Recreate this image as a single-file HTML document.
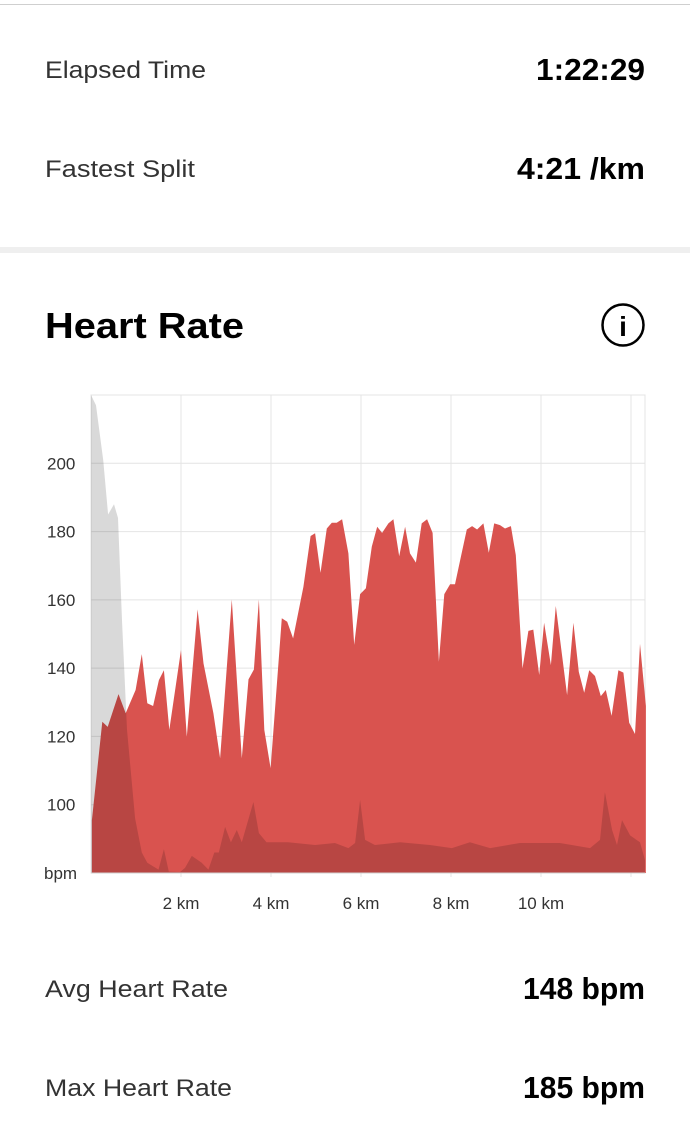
<!DOCTYPE html>
<html><head><meta charset="utf-8"><style>
html,body{margin:0;padding:0;background:#fff;}
svg{display:block;font-family:"Liberation Sans",sans-serif;}
</style></head><body>
<svg id="page" width="690" height="1130" viewBox="0 0 690 1130">
  <rect x="0" y="4" width="690" height="1" fill="#cfcfcf"/>
  <g>
    <text x="45" y="78" font-size="24" fill="#333" textLength="161" lengthAdjust="spacingAndGlyphs">Elapsed Time</text>
    <text x="645" y="80" font-size="31" font-weight="bold" fill="#000" text-anchor="end" textLength="109" lengthAdjust="spacingAndGlyphs">1:22:29</text>
  </g>
  <g>
    <text x="45" y="177" font-size="24" fill="#333" textLength="150" lengthAdjust="spacingAndGlyphs">Fastest Split</text>
    <text x="645" y="179" font-size="31" font-weight="bold" fill="#000" text-anchor="end" textLength="128" lengthAdjust="spacingAndGlyphs">4:21 /km</text>
  </g>
  <rect x="0" y="247" width="690" height="6" fill="#efefef"/>
  <text x="45" y="338" font-size="36" font-weight="bold" fill="#000" textLength="199" lengthAdjust="spacingAndGlyphs">Heart Rate</text>
  <g>
    <circle cx="623" cy="325" r="20.5" fill="none" stroke="#000" stroke-width="2.5"/>
    <text x="623" y="336" font-size="28" font-weight="bold" fill="#000" text-anchor="middle">i</text>
  </g>
  <g id="chart"></g>
  <g>
    <text x="45" y="997" font-size="24" fill="#333" textLength="183" lengthAdjust="spacingAndGlyphs">Avg Heart Rate</text>
    <text x="645" y="999" font-size="31" font-weight="bold" fill="#000" text-anchor="end" textLength="122" lengthAdjust="spacingAndGlyphs">148 bpm</text>
  </g>
  <g>
    <text x="45" y="1096" font-size="24" fill="#333" textLength="187" lengthAdjust="spacingAndGlyphs">Max Heart Rate</text>
    <text x="645" y="1098" font-size="31" font-weight="bold" fill="#000" text-anchor="end" textLength="122" lengthAdjust="spacingAndGlyphs">185 bpm</text>
  </g>
</svg>
<script>
const hrKm = [0.02,0.25,0.37,0.61,0.77,0.99,1.13,1.25,1.38,1.51,1.62,1.74,2.0,2.13,2.37,2.50,2.72,2.87,3.13,3.35,3.50,3.62,3.73,3.85,3.99,4.24,4.36,4.49,4.72,4.88,4.98,5.10,5.24,5.35,5.46,5.58,5.72,5.85,5.98,6.11,6.24,6.36,6.47,6.61,6.72,6.85,6.98,7.09,7.22,7.35,7.47,7.59,7.73,7.85,7.98,8.09,8.22,8.35,8.47,8.58,8.72,8.84,8.96,9.09,9.2,9.33,9.44,9.59,9.72,9.83,9.96,10.07,10.22,10.33,10.58,10.72,10.84,10.96,11.07,11.2,11.33,11.44,11.57,11.72,11.83,11.96,12.09,12.2,12.33];
const hrBpm = [95.5,124.3,122.8,132.4,126.8,133.6,144.1,129.7,128.9,136.5,139.4,121.9,145.3,119.9,157.2,141.4,126.8,113.6,160.1,113.6,136.7,139.6,160.1,121.9,110.7,154.6,153.6,148.7,163.8,178.7,179.5,167.9,180.9,182.6,182.6,183.6,173.6,146.8,161.7,163.4,175.6,181.4,179.6,182.4,183.6,172.8,181.4,173.6,170.9,182.4,183.6,179.6,141.9,161.7,164.6,164.6,172.6,180.6,181.6,180.6,182.4,173.8,182.4,181.9,180.9,181.6,173.1,139.9,150.9,151.3,138.0,153.3,140.9,158.2,132.1,153.3,138.9,132.8,139.4,137.7,131.8,133.6,126.0,139.4,138.7,124.0,120.7,147.1,128.9];
const elevKm = [0,0.11,0.27,0.38,0.51,0.6,0.69,0.8,0.98,1.13,1.25,1.5,1.62,1.73,1.98,2.09,2.24,2.46,2.61,2.74,2.84,2.98,3.11,3.24,3.35,3.61,3.73,3.9,4.38,4.98,5.42,5.72,5.87,5.98,6.09,6.31,6.87,7.53,8.02,8.42,8.87,9.53,10.42,11.09,11.31,11.42,11.58,11.69,11.8,11.98,12.2,12.31];
const elevVal = [220,217,201,185,188,184,154,122,96,86,83,81,87,80.4,80.3,81.5,85,83,81,86,86,93.5,89,92.6,89,100.8,91.7,89,89,88.2,88.8,87.3,88.8,101.4,89.7,88.2,89,88.2,87.3,89,87.3,88.8,88.8,87.3,89.7,103.7,92.6,88.2,95.5,91,89,83.8];
const yTicks = [100,120,140,160,180,200];
const yTickLabels = ["100","120","140","160","180","200"];
const xTicks = [2,4,6,8,10];
const xTickLabels = ["2 km","4 km","6 km","8 km","10 km"];
const gridKm = [2,4,6,8,10,12];

const NS = "http://www.w3.org/2000/svg";
const L=91, R=645, T=395, B=873, KMIN=0, KMAX=(645-91)/45, VMIN=80, VMAX=220;
const xS = k => L + (k-KMIN)/(KMAX-KMIN)*(R-L);
const yS = v => B - (v-VMIN)/(VMAX-VMIN)*(B-T);
const chart = document.getElementById('chart');
function mk(tag, attrs){const e=document.createElementNS(NS,tag);for(const k in attrs)e.setAttribute(k,attrs[k]);chart.appendChild(e);return e;}

const frame = mk('rect',{x:L,y:T,width:R-L,height:B-T,fill:'none',stroke:'#e4e4e4','stroke-width':1});


yTicks.forEach((v,i)=>{
  const g = mk('line',{x1:L,x2:R,y1:yS(v),y2:yS(v),stroke:'#e4e4e4','stroke-width':1});
  
  
  const t = mk('text',{x:47,y:yS(v)+6,'font-size':17,fill:'#333'});
  t.textContent = yTickLabels[i];
  
  
});
gridKm.forEach(k=>{
  const g = mk('line',{x1:xS(k),x2:xS(k),y1:T,y2:B+4,stroke:'#e4e4e4','stroke-width':1});
  
  
});
const bl = mk('text',{x:44,y:B+6,'font-size':17,fill:'#333'});
bl.textContent='bpm';


xTicks.forEach((k,i)=>{
  const t = mk('text',{x:xS(k),y:909,'font-size':17,fill:'#333','text-anchor':'middle'});
  t.textContent = xTickLabels[i];
  
  
});
function area(ks, vs){
  let d='M'+xS(ks[0])+','+B;
  ks.forEach((k,i)=>{d+=' L'+xS(k).toFixed(1)+','+yS(vs[i]).toFixed(1);});
  d+=' L'+xS(ks[ks.length-1])+','+B+' Z';
  return d;
}
const hr = mk('path',{d:area(hrKm,hrBpm),fill:'#d9534f'});


const el = mk('path',{d:area(elevKm,elevVal),fill:'rgba(0,0,0,0.15)'});


const ax = mk('line',{x1:L,x2:R,y1:B,y2:B,stroke:'#d0d0d0','stroke-width':1});


</script>
</body></html>
